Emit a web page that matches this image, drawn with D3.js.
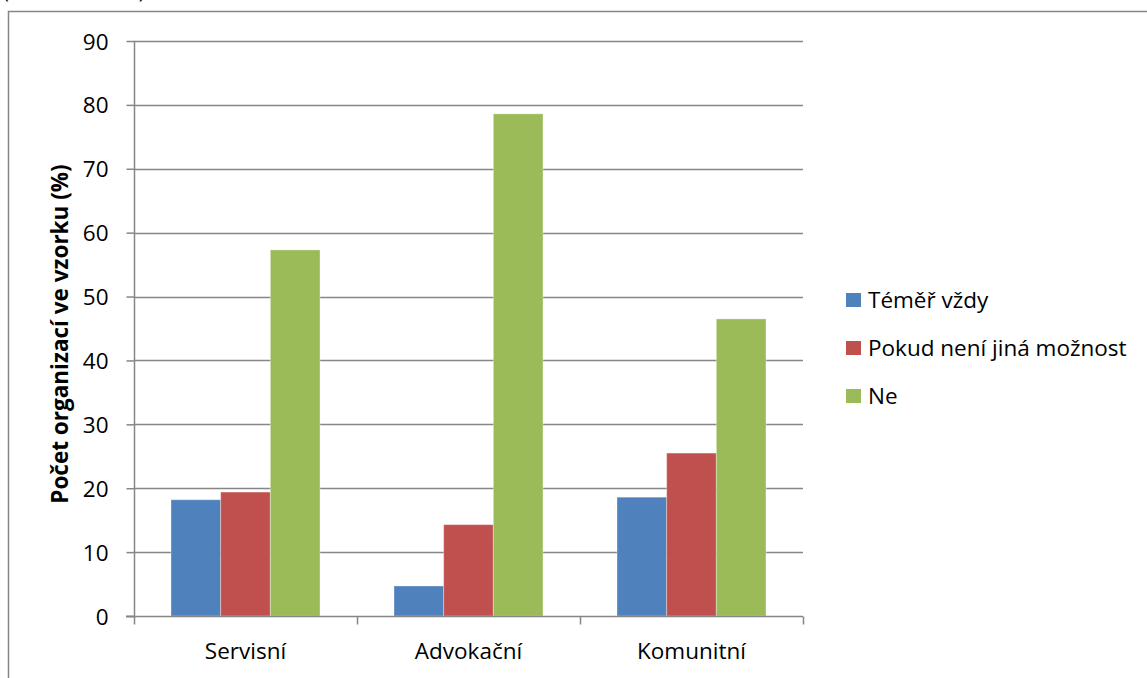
<!DOCTYPE html>
<html>
<head>
<meta charset="utf-8">
<script src="https://cdn.jsdelivr.net/npm/d3@7"></script>
<style>
  html, body { margin: 0; padding: 0; background: #fff; }
  svg { display: block; }
  text { font-family: "Open Sans", "Noto Sans", sans-serif; fill: #000; }
</style>
</head>
<body>
<svg id="chart" width="1147" height="678"></svg>
<script>
// Categories and series (percent of organisations in the sample)
const categories = ["Servisní", "Advokační", "Komunitní"];
const seriesNames = ["Téměř vždy", "Pokud není jiná možnost", "Ne"];
const seriesColors = ["#4F81BD", "#C0504D", "#9BBB59"];
const temerVzdy = [18.2, 4.7, 18.6];
const pokudNeniJina = [19.4, 14.3, 25.5];
const ne = [57.3, 78.6, 46.5];
const yTicks = [0, 10, 20, 30, 40, 50, 60, 70, 80, 90];
const yLabel = "Počet organizací ve vzorku (%)";

const seriesValues = [temerVzdy, pokudNeniJina, ne];
const rows = categories.map((c, i) => ({
  category: c,
  values: seriesNames.map((s, j) => ({ series: s, value: seriesValues[j][i], color: seriesColors[j] }))
}));

const svg = d3.select("#chart");
const axisColor = "#868686";
const fontSize = 22.5;

// Outer chart frame (continues past the right and bottom edges)
svg.append("path")
  .attr("d", "M8.5,700 L8.5,11.5 L1200,11.5")
  .attr("fill", "none").attr("stroke", axisColor).attr("stroke-width", 1.5);

// Caption line above the frame, mostly clipped by the page top
svg.append("text")
  .attr("x", 3).attr("y", -2)
  .attr("font-size", 20)
  .text("(vlastní šetření)");

const plot = { left: 134, right: 803, top: 41, bottom: 616 };

const x = d3.scaleBand().domain(categories).range([plot.left, plot.right]).paddingInner(0).paddingOuter(0);
const groupPad = 37;
const xInner = d3.scaleBand().domain(seriesNames)
  .range([0, x.bandwidth() - 2 * groupPad]).padding(0);
const y = d3.scaleLinear().domain([0, 90]).range([plot.bottom, plot.top]);

// Horizontal gridlines
svg.append("g").selectAll("line").data(yTicks.filter(t => t > 0)).join("line")
  .attr("x1", plot.left).attr("x2", plot.right)
  .attr("y1", d => Math.round(y(d)) + 0.5).attr("y2", d => Math.round(y(d)) + 0.5)
  .attr("stroke", axisColor).attr("stroke-width", 1.5);

// Bars
const groups = svg.append("g").selectAll("g").data(rows).join("g")
  .attr("transform", d => `translate(${x(d.category) + groupPad},0)`);
groups.selectAll("rect").data(d => d.values).join("rect")
  .attr("x", d => xInner(d.series))
  .attr("width", xInner.bandwidth())
  .attr("y", d => y(d.value))
  .attr("height", d => y(0) - y(d.value))
  .attr("fill", d => d.color)
  .attr("stroke", "rgba(255,255,255,0.35)")
  .attr("stroke-width", 1);

// Y axis
const yAxis = d3.axisLeft(y).tickValues(yTicks).tickSize(8).tickPadding(18).tickFormat(d3.format("d"));
const gy = svg.append("g").attr("transform", `translate(${plot.left + 0.5},0)`).call(yAxis);
gy.select(".domain").attr("stroke", axisColor).attr("stroke-width", 1.5)
  .attr("d", `M-8,${plot.bottom + 0.5}H0V${plot.top}`);
gy.selectAll(".tick line").attr("stroke", axisColor).attr("stroke-width", 1.5);
gy.selectAll(".tick text").attr("font-size", fontSize).attr("font-family", "'Open Sans', sans-serif")
  .attr("fill", "#000").attr("dy", "0.36em");

// X axis
const xAxis = d3.axisBottom(x).tickSize(0).tickPadding(0);
const gx = svg.append("g").attr("transform", `translate(0,${plot.bottom + 0.5})`).call(xAxis);
gx.select(".domain").attr("stroke", axisColor).attr("stroke-width", 1.5)
  .attr("d", `M${plot.left - 8},0H${plot.right}`);
gx.selectAll(".tick text").attr("font-size", fontSize).attr("font-family", "'Open Sans', sans-serif")
  .attr("fill", "#000").attr("y", 42).attr("dy", 0);
// Category boundary ticks
const boundaries = categories.map(c => x(c)).concat([x(categories[categories.length - 1]) + x.bandwidth()]);
gx.append("g").selectAll("line").data(boundaries).join("line")
  .attr("x1", d => Math.round(d) + 0.5).attr("x2", d => Math.round(d) + 0.5)
  .attr("y1", 0).attr("y2", 8)
  .attr("stroke", axisColor).attr("stroke-width", 1.5);

// Y axis title
svg.append("text")
  .attr("transform", `translate(68,334) rotate(-90)`)
  .attr("text-anchor", "middle")
  .attr("font-size", 22.5).attr("font-weight", "bold")
  .text(yLabel);

// Legend
const legend = svg.append("g").attr("transform", "translate(846,300)");
const items = legend.selectAll("g").data(seriesNames).join("g")
  .attr("transform", (d, i) => `translate(0,${i * 48})`);
items.append("rect").attr("x", 0).attr("y", -7).attr("width", 15).attr("height", 14)
  .attr("fill", (d, i) => seriesColors[i]);
items.append("text").attr("x", 22).attr("y", 0).attr("dy", "0.36em")
  .attr("font-size", fontSize).text(d => d);
</script>
</body>
</html>
